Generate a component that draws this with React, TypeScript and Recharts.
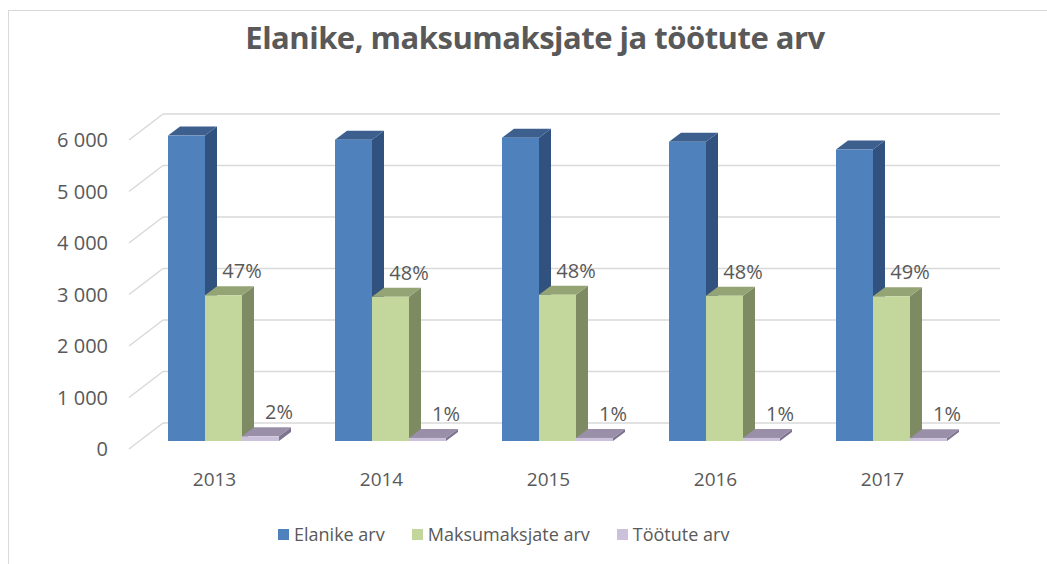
import { BarChart, Bar, XAxis, YAxis, CartesianGrid, Legend, LabelList } from "recharts";

const years = ["2013", "2014", "2015", "2016", "2017"];
const elanikeArv = [5930, 5850, 5890, 5810, 5660];
const maksumaksjateArv = [2830, 2800, 2840, 2820, 2810];
const tootuteArv = [90, 60, 60, 60, 55];
const maksumaksjatePct = ["47%", "48%", "48%", "48%", "49%"];
const tootutePct = ["2%", "1%", "1%", "1%", "1%"];
const yTicks = [0, 1000, 2000, 3000, 4000, 5000, 6000];

const data = years.map((year, i) => ({
  year,
  elanike: elanikeArv[i],
  maksumaksjad: maksumaksjateArv[i],
  tootud: tootuteArv[i],
  mPct: maksumaksjatePct[i],
  tPct: tootutePct[i],
}));

const FONT = "'Open Sans', sans-serif";
const TEXT = "#595959";
const GRID = "#D9D9D9";
// depth offset of the 3D effect
const DX = 12;
const DY = 9;
// front/back planes relative to the bar plane
const FRONT = { dx: -11, dy: 8 };
const BACK = { dx: 23, dy: -18 };

const SERIES = [
  { key: "elanike", name: "Elanike arv", front: "#4F81BD", side: "#31527F", top: "#3C5F8E" },
  { key: "maksumaksjad", name: "Maksumaksjate arv", front: "#C3D69B", side: "#7E8A62", top: "#95A474" },
  { key: "tootud", name: "Töötute arv", front: "#CCC1DA", side: "#7E7490", top: "#9A8FA8" },
];

function make3DBar(s: (typeof SERIES)[number]) {
  // eslint-disable-next-line @typescript-eslint/no-explicit-any
  return function Bar3D(props: any) {
    const { x, y, width: w, height: h } = props;
    if (w == null || h == null) return null;
    return (
      <g>
        <polygon
          points={`${x + w},${y} ${x + w + DX},${y - DY} ${x + w + DX},${y + h - DY} ${x + w},${y + h}`}
          fill={s.side}
        />
        <polygon
          points={`${x},${y} ${x + DX},${y - DY} ${x + w + DX},${y - DY} ${x + w},${y}`}
          fill={s.top}
        />
        <rect x={x} y={y} width={w} height={h} fill={s.front} />
      </g>
    );
  };
}

// eslint-disable-next-line @typescript-eslint/no-explicit-any
function PctLabel(props: any) {
  const { x, y, width, value } = props;
  return (
    <text x={x + width} y={y - 17} textAnchor="middle" fill={TEXT} fontSize={20} fontFamily={FONT}>
      {value}
    </text>
  );
}

// eslint-disable-next-line @typescript-eslint/no-explicit-any
function GridLine(props: any) {
  const { x1, x2, y1 } = props;
  return (
    <g>
      <line
        x1={x1 + FRONT.dx}
        y1={y1 + FRONT.dy}
        x2={x1 + BACK.dx}
        y2={y1 + BACK.dy}
        stroke={GRID}
        strokeWidth={1.5}
      />
      <line x1={x1 + BACK.dx} y1={y1 + BACK.dy} x2={x2 + 25} y2={y1 + BACK.dy} stroke={GRID} strokeWidth={1.5} />
    </g>
  );
}

// eslint-disable-next-line @typescript-eslint/no-explicit-any
function YTick({ y, payload }: any) {
  const label = payload.value.toLocaleString("en-US").replace(",", " ");
  return (
    <text x={108} y={y + FRONT.dy + 7} textAnchor="end" fill={TEXT} fontSize={20} fontFamily={FONT}>
      {label}
    </text>
  );
}

// eslint-disable-next-line @typescript-eslint/no-explicit-any
function XTick({ x, payload }: any) {
  return (
    <text x={x - 9} y={486} textAnchor="middle" fill={TEXT} fontSize={19} fontFamily={FONT}>
      {payload.value}
    </text>
  );
}

function LegendContent() {
  return (
    <div style={{ display: "flex", alignItems: "center", fontFamily: FONT, fontSize: 18, color: TEXT }}>
      {SERIES.map((s, i) => (
        <div key={s.key} style={{ display: "flex", alignItems: "center", marginRight: i < 2 ? 27 : 0 }}>
          <span style={{ width: 11, height: 11, background: s.front, display: "inline-block", marginRight: 5 }} />
          <span>{s.name}</span>
        </div>
      ))}
    </div>
  );
}

export default function App() {
  return (
    <div style={{ position: "relative", width: 1047, height: 564, overflow: "hidden", background: "#fff" }}>
      <style>{"body{margin:0}"}</style>
      <div
        style={{
          position: "absolute",
          left: 8,
          top: 10,
          width: 1100,
          height: 600,
          border: "1.5px solid #D9D9D9",
          boxSizing: "border-box",
        }}
      />
      <div
        style={{
          position: "absolute",
          left: 0,
          top: 16,
          width: 1070,
          textAlign: "center",
          fontFamily: FONT,
          fontWeight: 700,
          fontSize: 31,
          lineHeight: "42px",
          color: TEXT,
          letterSpacing: -0.5,
        }}
      >
        Elanike, maksumaksjate ja töötute arv
      </div>
      <div style={{ position: "absolute", left: 0, top: 0 }}>
        <BarChart
          width={1047}
          height={564}
          data={data}
          margin={{ top: 132, right: 72, left: 40, bottom: 53 }}
          barGap={0}
          barSize={37}
        >
          <CartesianGrid vertical={false} horizontal={GridLine} />
          <XAxis dataKey="year" height={40} axisLine={false} tickLine={false} tick={XTick} />
          <YAxis
            width={100}
            domain={[0, 6000]}
            ticks={yTicks}
            axisLine={false}
            tickLine={false}
            tick={YTick}
          />
          <Legend
            height={30}
            verticalAlign="bottom"
            content={LegendContent}
            wrapperStyle={{ top: 522, left: 278, bottom: "auto", width: "auto" }}
          />
          {SERIES.map((s) => (
            <Bar
              key={s.key}
              dataKey={s.key}
              name={s.name}
              fill={s.front}
              shape={make3DBar(s)}
              isAnimationActive={false}
            >
              {s.key === "maksumaksjad" && <LabelList dataKey="mPct" content={PctLabel} />}
              {s.key === "tootud" && <LabelList dataKey="tPct" content={PctLabel} />}
            </Bar>
          ))}
        </BarChart>
      </div>
    </div>
  );
}
